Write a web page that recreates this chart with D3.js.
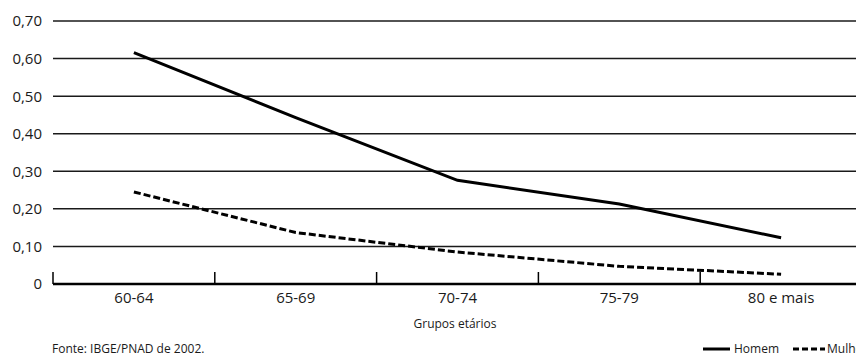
<!DOCTYPE html>
<html><head><meta charset="utf-8">
<script src="https://cdn.jsdelivr.net/npm/d3@7"></script>
<style>body{margin:0;background:#fff}svg{display:block}text{font-family:"Open Sans",sans-serif;fill:#1a1a1a}</style>
</head><body><svg id="c" width="856" height="358"></svg>
<script>
const categories = ["60-64","65-69","70-74","75-79","80 e mais"];
const homem = [0.616,0.443,0.276,0.213,0.123];
const mulher = [0.245,0.137,0.085,0.047,0.026];
const yTicks = [0,0.1,0.2,0.3,0.4,0.5,0.6,0.7];
const seriesNames = ["Homem","Mulher"];
const xTitle = "Grupos etários";
const source = "Fonte: IBGE/PNAD de 2002.";

const svg = d3.select("#c");
const x = d3.scaleBand().domain(categories).range([53, 862]);
const y = d3.scaleLinear().domain([0, 0.7]).range([284, 21]);
const fmt = d => d === 0 ? "0" : d3.format(".2f")(d).replace(".", ",");

// gridlines
svg.append("g").selectAll("line").data(yTicks.filter(d => d > 0)).join("line")
  .attr("x1", 53).attr("x2", 856).attr("y1", d => y(d)).attr("y2", d => y(d))
  .attr("stroke", "#1a1a1a").attr("stroke-width", 1.5);

// y labels
svg.append("g").selectAll("text").data(yTicks).join("text")
  .attr("x", 42).attr("y", d => y(d)).attr("dy", "0.36em")
  .attr("text-anchor", "end").attr("font-size", 15).text(fmt);

// x axis
const xa = svg.append("g");
xa.append("line").attr("x1", 53).attr("x2", 856).attr("y1", y(0)).attr("y2", y(0))
  .attr("stroke", "#000").attr("stroke-width", 2.5);
xa.selectAll("line.t").data(categories).join("line").attr("class","t")
  .attr("x1", d => x(d)).attr("x2", d => x(d)).attr("y1", y(0)).attr("y2", y(0) - 12)
  .attr("stroke", "#000").attr("stroke-width", 1.5);
xa.selectAll("text").data(categories).join("text")
  .attr("x", d => x(d) + x.bandwidth()/2).attr("y", 303)
  .attr("text-anchor", "middle").attr("font-size", 15).text(d => d);
svg.append("text").attr("x", 455).attr("y", 328).attr("text-anchor", "middle")
  .attr("font-size", 12).text(xTitle);

// lines
const line = d3.line().x((d,i) => x(categories[i]) + x.bandwidth()/2).y(d => y(d));
svg.append("path").datum(homem).attr("d", line).attr("fill","none")
  .attr("stroke","#000").attr("stroke-width",3);
svg.append("path").datum(mulher).attr("d", line).attr("fill","none")
  .attr("stroke","#000").attr("stroke-width",3).attr("stroke-dasharray","7,3");

// source
svg.append("text").attr("x", 52).attr("y", 353).attr("font-size", 12).text(source);

// legend
const lg = svg.append("g");
lg.append("line").attr("x1",703).attr("x2",730).attr("y1",349).attr("y2",349)
  .attr("stroke","#000").attr("stroke-width",3);
lg.append("text").attr("x",734).attr("y",353).attr("font-size",12).text(seriesNames[0]);
lg.append("line").attr("x1",793).attr("x2",825).attr("y1",349).attr("y2",349)
  .attr("stroke","#000").attr("stroke-width",3).attr("stroke-dasharray","6,3");
lg.append("text").attr("x",827).attr("y",353).attr("font-size",12).text(seriesNames[1]);
</script></body></html>
